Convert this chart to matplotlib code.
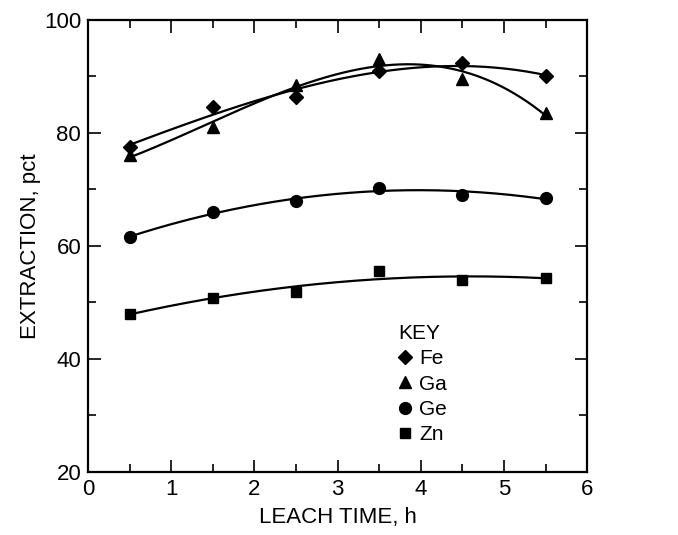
import numpy as np
import matplotlib.pyplot as plt
from matplotlib.ticker import MultipleLocator

plt.rcParams['font.family'] = ['Liberation Sans', 'DejaVu Sans']

time_h = [0.5, 1.5, 2.5, 3.5, 4.5, 5.5]
fe = [77.5, 84.5, 86.3, 91.0, 92.3, 90.0]
ga = [76.0, 81.0, 88.5, 93.0, 89.5, 83.5]
ge = [61.5, 66.0, 68.0, 70.3, 69.0, 68.5]
zn = [48.0, 50.8, 51.8, 55.5, 54.0, 54.3]

series = [("Fe", fe, "D", 7, 3),
          ("Ga", ga, "^", 8.5, 3),
          ("Ge", ge, "o", 8.5, 2),
          ("Zn", zn, "s", 7, 2)]


def main():
    fig = plt.figure(figsize=(6.78, 5.35), dpi=100)
    ax = fig.add_axes([0.130, 0.118, 0.736, 0.845])

    t = np.array(time_h)
    tt = np.linspace(t[0], t[-1], 200)
    handles = []
    for name, vals, mk, ms, deg in series:
        coef = np.polyfit(t, vals, deg)
        ax.plot(tt, np.polyval(coef, tt), color="black", lw=1.6)
        h, = ax.plot(t, vals, linestyle="none", marker=mk, ms=ms,
                     color="black", label=name)
        handles.append(h)

    ax.set_xlim(0, 6)
    ax.set_ylim(20, 100)
    ax.xaxis.set_major_locator(MultipleLocator(1))
    ax.xaxis.set_minor_locator(MultipleLocator(0.5))
    ax.yaxis.set_major_locator(MultipleLocator(20))
    ax.yaxis.set_minor_locator(MultipleLocator(10))
    ax.tick_params(which="both", direction="in", top=True, right=True,
                   width=1.2, labelsize=16, pad=5)
    ax.tick_params(which="major", length=9)
    ax.tick_params(which="minor", length=6)
    for sp in ax.spines.values():
        sp.set_linewidth(1.6)

    ax.set_xlabel("LEACH TIME, h", fontsize=16, labelpad=5)
    ax.set_ylabel("EXTRACTION, pct", fontsize=16, labelpad=2)

    leg = ax.legend(handles=handles, title="KEY", frameon=False,
                    loc="upper left", bbox_to_anchor=(0.605, 0.345),
                    handlelength=0.6, handletextpad=0.4, labelspacing=0.3,
                    fontsize=15, title_fontsize=15, borderaxespad=0)
    leg._legend_box.align = "left"

    fig.savefig("out.png", dpi=100)


main()
